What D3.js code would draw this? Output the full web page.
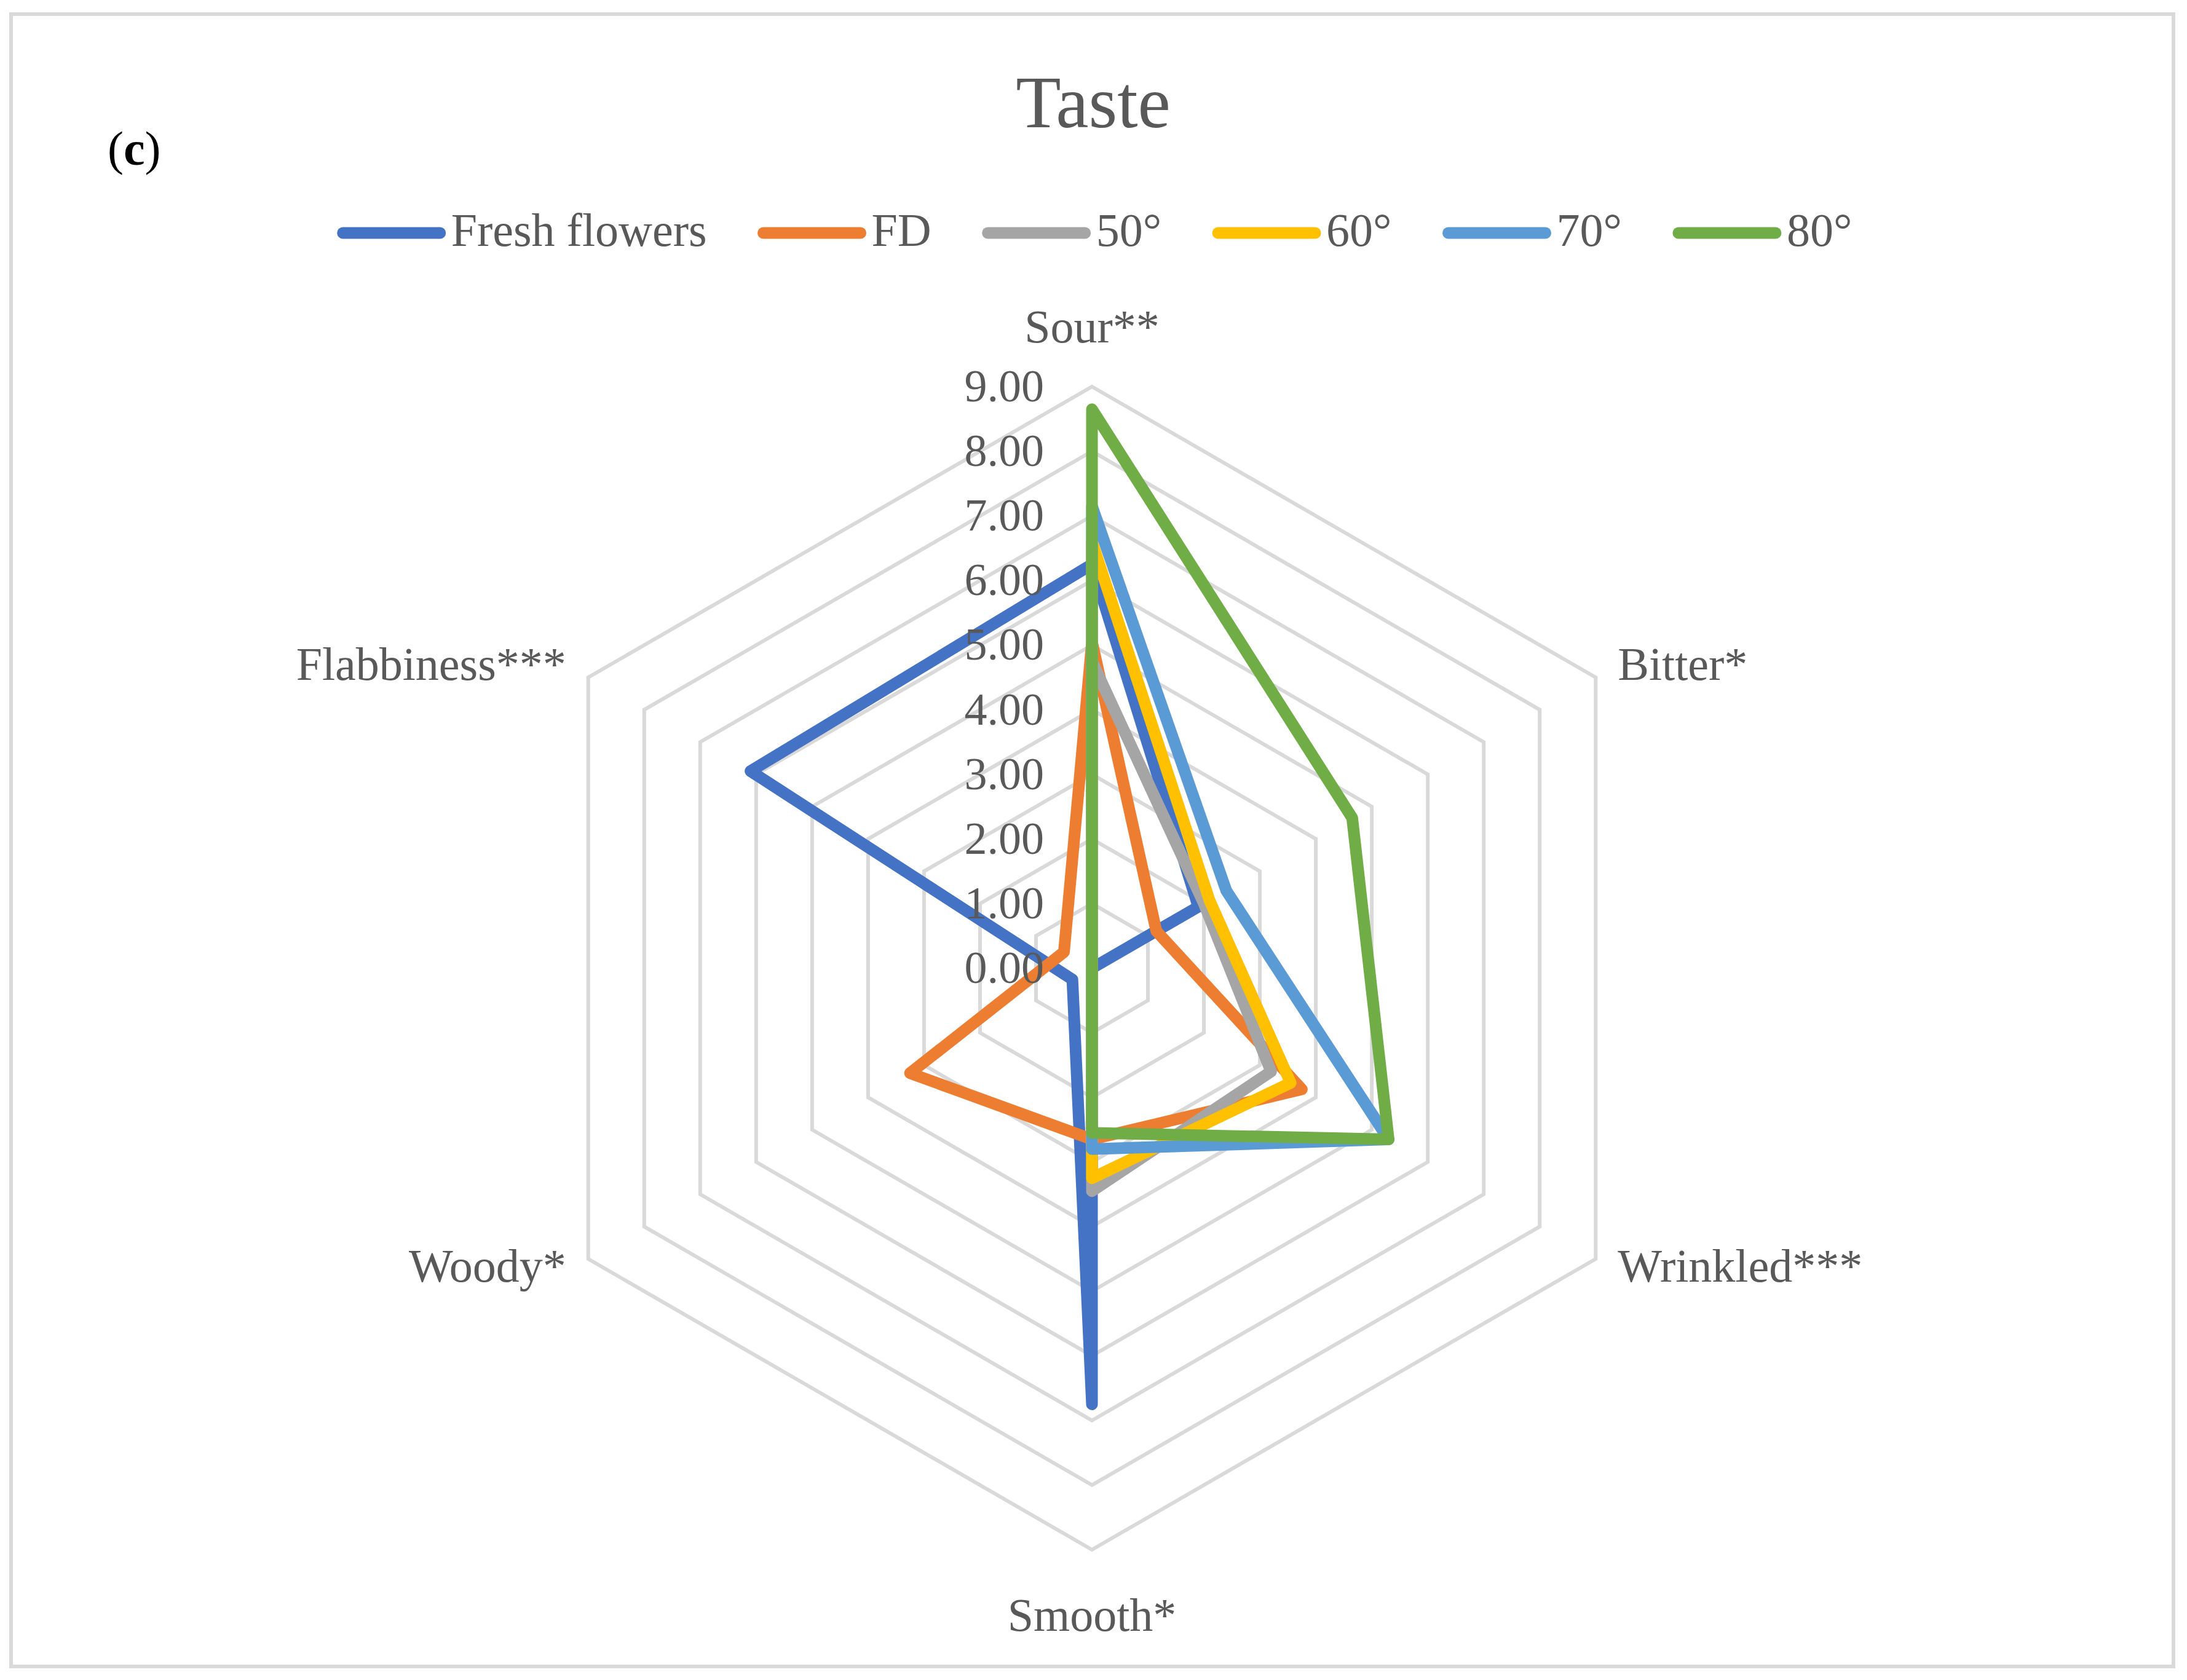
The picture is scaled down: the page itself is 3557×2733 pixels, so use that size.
<!DOCTYPE html>
<html>
<head>
<meta charset="utf-8">
<script src="https://cdn.jsdelivr.net/npm/d3@7"></script>
<style>
  body { margin: 0; background: #fff; }
  text { font-family: "Liberation Serif", "Times New Roman", serif; fill: #595959; }
</style>
</head>
<body>
<div id="chart"></div>
<script>
// Attributes round the radar, clockwise from the top.
const attributes = ['Sour**', 'Bitter*', 'Wrinkled***', 'Smooth*', 'Woody*', 'Flabbiness***'];

// One series per sample, values in attribute order.
const seriesNames = ['Fresh flowers', 'FD', '50°', '60°', '70°', '80°'];
const freshFlowers = [6.25, 1.9, 0.0, 6.75, 0.35, 6.1];
const fd = [5.05, 1.15, 3.75, 2.65, 3.25, 0.5];
const dried50 = [4.75, 2.0, 3.2, 3.45, 0, 0];
const dried60 = [6.6, 2.1, 3.55, 3.25, 0, 0];
const dried70 = [7.15, 2.4, 5.3, 2.8, 0, 0];
const dried80 = [8.65, 4.65, 5.3, 2.55, 0, 0];

const seriesColors = ['#4472C4', '#ED7D31', '#A5A5A5', '#FFC000', '#5B9BD5', '#70AD47'];

// Radial axis ticks.
const tickValues = [0, 1, 2, 3, 4, 5, 6, 7, 8, 9];

const series = seriesNames.map((name, i) => ({
  name: name,
  values: [freshFlowers, fd, dried50, dried60, dried70, dried80][i],
  color: seriesColors[i]
}));

const width = 3557,
      height = 2733,
      cx = 1776,
      cy = 1575,
      radius = 946;

const svg = d3.select('#chart')
  .append('svg')
  .attr('width', width)
  .attr('height', height);

// chart frame
svg.append('rect')
  .attr('x', 18).attr('y', 23)
  .attr('width', 3517).attr('height', 2688)
  .attr('fill', '#fff')
  .attr('stroke', '#D9D9D9')
  .attr('stroke-width', 6);

svg.append('text')
  .attr('x', cx + 2).attr('y', 207)
  .attr('text-anchor', 'middle')
  .style('font-size', '120px')
  .text('Taste');

// panel letter: plain brackets, bold letter
const panel = svg.append('text')
  .attr('x', 175).attr('y', 268)
  .style('font-size', '78px')
  .style('fill', '#000');
panel.append('tspan').text('(');
panel.append('tspan').style('font-weight', 'bold').text('c');
panel.append('tspan').text(')');

// legend, laid out from the measured text widths and centred on the plot
const legendY = 379,
      lineLen = 178,
      textGap = 8,
      itemGap = 82;

const legend = svg.append('g');
const items = legend.selectAll('g')
  .data(series)
  .enter()
  .append('g');

items.append('text')
  .attr('y', legendY + 21)
  .style('font-size', '76px')
  .text(d => d.name);

let offsets = [], total = 0;
items.each(function(d, i) {
  const w = d3.select(this).select('text').node().getComputedTextLength();
  offsets.push(total);
  total += lineLen + textGap + w + (i < series.length - 1 ? itemGap : 0);
});
const legendStart = cx - total / 2 + 4;

items.attr('transform', (d, i) => 'translate(' + (legendStart + offsets[i]) + ',0)');
items.insert('line', 'text')
  .attr('x1', 10).attr('x2', lineLen - 10)
  .attr('y1', legendY).attr('y2', legendY)
  .attr('stroke', d => d.color)
  .attr('stroke-width', 19)
  .attr('stroke-linecap', 'round');
items.select('text').attr('x', lineLen + textGap);

// radar scales
const r = d3.scaleLinear()
  .domain([0, 9])
  .range([0, radius]);

const angle = d3.scalePoint()
  .domain(attributes)
  .range([0, 2 * Math.PI * (attributes.length - 1) / attributes.length]);

const radar = svg.append('g')
  .attr('transform', 'translate(' + cx + ',' + cy + ')');

const line = d3.lineRadial()
  .angle(d => angle(d.attr))
  .radius(d => r(d.value))
  .curve(d3.curveLinearClosed);

// hexagonal gridlines
radar.selectAll('.grid')
  .data(tickValues.slice(1))
  .enter()
  .append('path')
  .attr('class', 'grid')
  .attr('d', t => line(attributes.map(a => ({ attr: a, value: t }))))
  .attr('fill', 'none')
  .attr('stroke', '#D9D9D9')
  .attr('stroke-width', 6)
  .attr('stroke-linejoin', 'miter');

// series
radar.selectAll('.series')
  .data(series)
  .enter()
  .append('path')
  .attr('class', 'series')
  .attr('d', s => line(attributes.map((a, i) => ({ attr: a, value: s.values[i] }))))
  .attr('fill', 'none')
  .attr('stroke', s => s.color)
  .attr('stroke-width', 19)
  .attr('stroke-linejoin', 'round')
  .attr('stroke-linecap', 'round');

// radial tick labels
radar.selectAll('.tick')
  .data(tickValues)
  .enter()
  .append('text')
  .attr('class', 'tick')
  .attr('x', -78)
  .attr('y', t => -r(t) + 24)
  .attr('text-anchor', 'end')
  .style('font-size', '74px')
  .text(d3.format('.2f'));

// attribute labels
const point = (a, rr) => {
  const th = angle(a);
  return [rr * Math.sin(th), -rr * Math.cos(th)];
};

radar.selectAll('.cat')
  .data(attributes)
  .enter()
  .append('text')
  .attr('class', 'cat')
  .style('font-size', '76px')
  .each(function(a) {
    const [x, y] = point(a, radius);
    const sel = d3.select(this);
    if (Math.abs(x) < 1) {
      sel.attr('text-anchor', 'middle')
        .attr('x', x)
        .attr('y', y < 0 ? y - 72 : y + 132);
    } else {
      sel.attr('text-anchor', x > 0 ? 'start' : 'end')
        .attr('x', x > 0 ? x + 36 : x - 36)
        .attr('y', y < 0 ? y + 4 : y + 37);
    }
  })
  .text(a => a);
</script>
</body>
</html>
